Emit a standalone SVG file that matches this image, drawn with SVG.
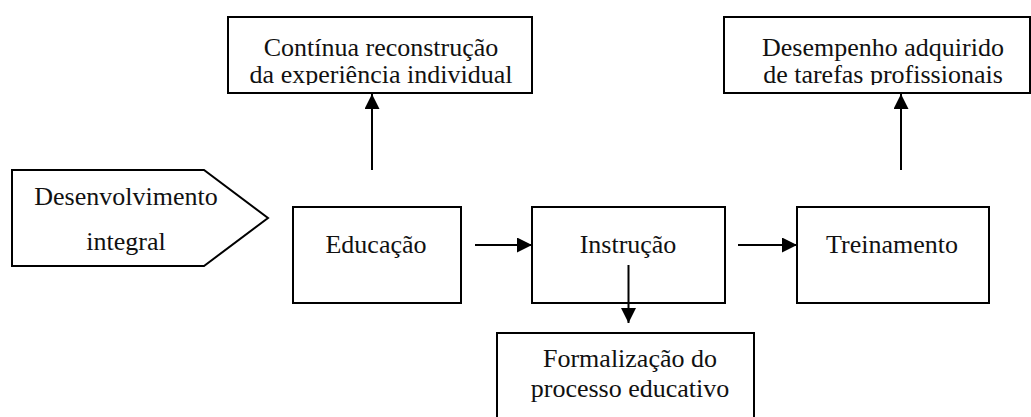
<svg xmlns="http://www.w3.org/2000/svg" width="1031" height="417" viewBox="0 0 1031 417">
<style>
.box{fill:#fff;stroke:#000;stroke-width:2}
.t{font-family:"Liberation Serif","Times New Roman",serif;font-size:26px;fill:#111;text-anchor:middle}
.c{stroke:#000;stroke-width:2;fill:none}
</style>
<defs>
<marker id="ah" markerUnits="userSpaceOnUse" markerWidth="16" markerHeight="16" refX="15" refY="7.5" orient="auto">
<path d="M0,0 L15,7.5 L0,15 Z" fill="#000"/>
</marker>
<clipPath id="clipA"><rect x="229" y="18" width="302" height="67"/></clipPath>
<clipPath id="clipB"><rect x="725" y="18" width="304" height="67"/></clipPath>
</defs>
<rect width="1031" height="417" fill="#fff"/>
<g id="node-continua">
<rect class="box" x="228" y="17" width="304" height="76"/>
<g clip-path="url(#clipA)">
<text class="t" x="381" y="56">Contínua reconstrução</text>
<text class="t" x="381" y="83">da experiência individual</text>
</g>
</g>
<g id="node-desempenho">
<rect class="box" x="724" y="17" width="306" height="76"/>
<g clip-path="url(#clipB)">
<text class="t" x="883" y="56">Desempenho adquirido</text>
<text class="t" x="883" y="83">de tarefas profissionais</text>
</g>
</g>
<g id="node-desenvolvimento">
<polygon class="box" points="12,170 204,170 268,218 204,266 12,266"/>
<text class="t" x="126" y="205">Desenvolvimento</text>
<text class="t" x="126" y="250">integral</text>
</g>
<g id="node-educacao">
<rect class="box" x="293" y="207" width="168" height="96"/>
<text class="t" x="376" y="253">Educação</text>
</g>
<g id="node-instrucao">
<rect class="box" x="532" y="207" width="193" height="96"/>
<text class="t" x="628" y="253">Instrução</text>
</g>
<g id="node-treinamento">
<rect class="box" x="797" y="207" width="192" height="96"/>
<text class="t" x="892" y="253">Treinamento</text>
</g>
<g id="node-formalizacao">
<rect class="box" x="497" y="333" width="257" height="100"/>
<text class="t" x="630" y="367">Formalização do</text>
<text class="t" x="630" y="397">processo educativo</text>
</g>
<g id="connectors">
<line class="c" x1="372" y1="170" x2="372" y2="94" marker-end="url(#ah)"/>
<line class="c" x1="901" y1="170" x2="901" y2="94" marker-end="url(#ah)"/>
<line class="c" x1="475" y1="245" x2="532" y2="245" marker-end="url(#ah)"/>
<line class="c" x1="738" y1="245" x2="797" y2="245" marker-end="url(#ah)"/>
<line class="c" x1="628.5" y1="265" x2="628.5" y2="323" marker-end="url(#ah)"/>
</g>
</svg>
